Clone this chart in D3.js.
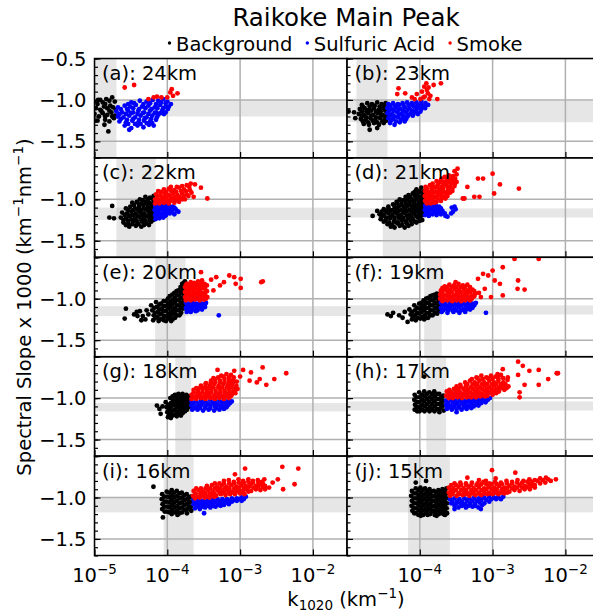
<!DOCTYPE html>
<html>
<head>
<meta charset="utf-8">
<script src="https://cdn.jsdelivr.net/npm/d3@7"></script>
<style>
body { margin: 0; background: #fff; }
text { font-family: "DejaVu Sans", sans-serif; fill: #000; }
</style>
</head>
<body>
<svg id="chart" width="593" height="614"></svg>
<script>
// values
var panelLabels = ['(a): 24km', '(b): 23km', '(c): 22km', '(d): 21km', '(e): 20km',
                   '(f): 19km', '(g): 18km', '(h): 17km', '(i): 16km', '(j): 15km'];

// shaded ranges per panel: k1020 (vertical band) and slope (horizontal band)
var kBand = [[8e-6, 2.0e-5], [1.35e-5, 3.6e-5], [2.0e-5, 6.9e-5], [3.1e-5, 1.02e-4], [6.8e-5, 1.78e-4],
             [1.15e-4, 2.0e-4], [1.29e-4, 2.14e-4], [1.23e-4, 2.3e-4], [8.9e-5, 2.3e-4], [6.9e-5, 2.59e-4]];
var slopeBand = [[-1.2, -1.0], [-1.27, -1.01], [-1.25, -1.10], [-1.22, -1.11], [-1.21, -1.09],
                 [-1.19, -1.08], [-1.16, -1.06], [-1.15, -1.04], [-1.18, -1.0], [-1.18, -1.0]];

var xTicks = [1e-5, 1e-4, 1e-3, 1e-2];
var xTickPowers = ['\u22125', '\u22124', '\u22123', '\u22122'];
var yTicks = [-0.5, -1.0, -1.5];
var yTickLabels = ['\u22120.5', '\u22121.0', '\u22121.5'];

var legendNames = ['Background', 'Sulfuric Acid', 'Smoke'];
var legendColors = ['#000000', '#0000ff', '#ff0000'];

// [k1020, slope x 1000] per panel
var background = [
  [[1.0e-5,-1.02],[1.1e-5,-1.05],[1.2e-5,-1.0],[1.3e-5,-1.03],[1.45e-5,-0.99],[1.6e-5,-1.01],[1.75e-5,-0.97],[1.9e-5,-1.02],
   [1.05e-5,-1.1],[1.2e-5,-1.12],[1.35e-5,-1.08],[1.5e-5,-1.1],[1.65e-5,-1.07],[1.8e-5,-1.09],[1.95e-5,-1.12],
   [1.0e-5,-1.17],[1.15e-5,-1.2],[1.3e-5,-1.16],[1.5e-5,-1.18],[1.7e-5,-1.15],[1.9e-5,-1.19],
   [1.1e-5,-1.25],[1.4e-5,-1.24],[1.6e-5,-1.26],[1.85e-5,-1.22],[1.37e-5,-1.3],[1.55e-5,-1.38],[1.02e-5,-1.25],
   [1.12e-5,-1.0],[1.4e-5,-1.05],[1.6e-5,-1.13],[1.4e-5,-1.2],[1.75e-5,-1.2],[1.25e-5,-1.14]],
  [[1.6e-5,-1.06],[1.9e-5,-1.04],[2.2e-5,-1.05],[2.6e-5,-1.03],[3.0e-5,-1.05],[3.4e-5,-1.04],
   [1.5e-5,-1.11],[1.75e-5,-1.1],[2.0e-5,-1.12],[2.35e-5,-1.1],[2.75e-5,-1.12],[3.15e-5,-1.1],[3.55e-5,-1.11],
   [1.45e-5,-1.17],[1.7e-5,-1.18],[1.95e-5,-1.16],[2.3e-5,-1.18],[2.65e-5,-1.16],[3.05e-5,-1.18],[3.5e-5,-1.17],
   [1.55e-5,-1.23],[1.8e-5,-1.24],[2.1e-5,-1.22],[2.45e-5,-1.24],[2.85e-5,-1.22],[3.3e-5,-1.24],
   [1.7e-5,-1.29],[2.0e-5,-1.3],[2.35e-5,-1.28],[2.75e-5,-1.3],[3.2e-5,-1.28],
   [1.05e-5,-1.14],[1.25e-5,-1.15],[1.3e-5,-1.22],[2.05e-5,-1.36],[2.6e-5,-1.34],
   [1.65e-5,-1.08],[2.05e-5,-1.08],[2.4e-5,-1.07],[2.8e-5,-1.08],[3.25e-5,-1.07],
   [1.6e-5,-1.14],[1.85e-5,-1.14],[2.15e-5,-1.13],[2.5e-5,-1.14],[2.9e-5,-1.14],[3.35e-5,-1.13],
   [1.6e-5,-1.2],[1.85e-5,-1.21],[2.15e-5,-1.19],[2.5e-5,-1.21],[2.9e-5,-1.2],[3.35e-5,-1.2],
   [1.65e-5,-1.26],[1.95e-5,-1.27],[2.25e-5,-1.25],[2.6e-5,-1.27],[3.05e-5,-1.26],[3.45e-5,-1.25]],
  [[4.2e-5,-1.0],[5.0e-5,-0.97],[5.8e-5,-0.98],[6.5e-5,-0.96],
   [3.3e-5,-1.04],[3.8e-5,-1.03],[4.4e-5,-1.05],[5.0e-5,-1.03],[5.7e-5,-1.04],[6.5e-5,-1.02],
   [2.7e-5,-1.11],[3.1e-5,-1.09],[3.6e-5,-1.11],[4.1e-5,-1.09],[4.7e-5,-1.11],[5.4e-5,-1.09],[6.1e-5,-1.1],[6.6e-5,-1.08],
   [2.4e-5,-1.16],[2.8e-5,-1.17],[3.2e-5,-1.15],[3.7e-5,-1.17],[4.2e-5,-1.15],[4.8e-5,-1.17],[5.5e-5,-1.15],[6.2e-5,-1.16],
   [2.3e-5,-1.22],[2.7e-5,-1.23],[3.1e-5,-1.21],[3.6e-5,-1.23],[4.1e-5,-1.21],[4.7e-5,-1.23],[5.4e-5,-1.21],[6.2e-5,-1.22],
   [2.5e-5,-1.28],[2.9e-5,-1.29],[3.4e-5,-1.27],[3.9e-5,-1.29],[4.5e-5,-1.27],[5.2e-5,-1.29],[6.0e-5,-1.27],
   [3.0e-5,-1.33],[3.7e-5,-1.32],[4.4e-5,-1.33],
   [1.6e-5,-1.22],[1.75e-5,-1.08],[1.85e-5,-1.23],
   [4.6e-5,-1.01],[5.4e-5,-1.0],[6.2e-5,-0.99],
   [3.5e-5,-1.07],[4.1e-5,-1.06],[4.7e-5,-1.07],[5.3e-5,-1.06],[6.1e-5,-1.06],
   [2.9e-5,-1.13],[3.4e-5,-1.13],[3.9e-5,-1.12],[4.4e-5,-1.13],[5.1e-5,-1.12],[5.8e-5,-1.13],[6.4e-5,-1.12],
   [2.6e-5,-1.19],[3.0e-5,-1.2],[3.4e-5,-1.19],[3.9e-5,-1.2],[4.5e-5,-1.19],[5.1e-5,-1.2],[5.8e-5,-1.19],[6.5e-5,-1.19],
   [2.5e-5,-1.25],[2.9e-5,-1.26],[3.3e-5,-1.25],[3.8e-5,-1.26],[4.4e-5,-1.25],[5.0e-5,-1.26],[5.7e-5,-1.25],[6.4e-5,-1.25],
   [2.7e-5,-1.31],[3.3e-5,-1.3],[4.0e-5,-1.3],[4.8e-5,-1.31],[5.6e-5,-1.31]],
  [[9.0e-5,-0.88],[1.05e-4,-0.86],[1.15e-4,-0.9],
   [7.0e-5,-0.95],[8.0e-5,-0.93],[9.2e-5,-0.94],[1.05e-4,-0.92],[1.13e-4,-0.95],
   [5.3e-5,-1.0],[6.0e-5,-1.01],[6.8e-5,-0.99],[7.8e-5,-1.0],[9.0e-5,-0.99],[1.02e-4,-1.01],[1.13e-4,-0.99],
   [4.3e-5,-1.06],[4.9e-5,-1.05],[5.6e-5,-1.07],[6.4e-5,-1.05],[7.3e-5,-1.07],[8.3e-5,-1.05],[9.5e-5,-1.06],[1.08e-4,-1.05],
   [3.2e-5,-1.12],[3.7e-5,-1.11],[4.2e-5,-1.13],[4.8e-5,-1.11],[5.5e-5,-1.13],[6.3e-5,-1.11],[7.2e-5,-1.13],[8.2e-5,-1.11],[9.4e-5,-1.12],[1.08e-4,-1.13],
   [2.8e-5,-1.18],[3.2e-5,-1.19],[3.7e-5,-1.17],[4.2e-5,-1.19],[4.8e-5,-1.17],[5.5e-5,-1.19],[6.3e-5,-1.17],[7.2e-5,-1.19],[8.3e-5,-1.17],[9.6e-5,-1.18],[1.1e-4,-1.19],
   [2.9e-5,-1.24],[3.4e-5,-1.25],[3.9e-5,-1.23],[4.5e-5,-1.25],[5.2e-5,-1.23],[6.0e-5,-1.25],[6.9e-5,-1.23],[8.0e-5,-1.24],[9.3e-5,-1.22],[1.08e-4,-1.25],
   [3.6e-5,-1.3],[4.2e-5,-1.31],[4.9e-5,-1.29],[5.7e-5,-1.31],[6.6e-5,-1.29],[7.7e-5,-1.3],[9.0e-5,-1.28],
   [4.5e-5,-1.34],[6.2e-5,-1.34],[2.25e-5,-1.2],[2.6e-5,-1.14],
   [8.5e-5,-0.91],[9.8e-5,-0.9],[1.1e-4,-0.92],
   [6.4e-5,-0.97],[7.4e-5,-0.97],[8.6e-5,-0.96],[9.8e-5,-0.97],[1.1e-4,-0.97],
   [4.8e-5,-1.03],[5.6e-5,-1.03],[6.4e-5,-1.02],[7.3e-5,-1.03],[8.4e-5,-1.02],[9.6e-5,-1.03],[1.1e-4,-1.02],
   [3.7e-5,-1.09],[4.5e-5,-1.09],[5.2e-5,-1.08],[6.0e-5,-1.09],[6.8e-5,-1.08],[7.8e-5,-1.09],[8.9e-5,-1.08],[1.01e-4,-1.09],[1.12e-4,-1.08],
   [3.0e-5,-1.15],[3.45e-5,-1.15],[3.95e-5,-1.14],[4.5e-5,-1.15],[5.1e-5,-1.14],[5.9e-5,-1.15],[6.7e-5,-1.14],[7.7e-5,-1.15],[8.8e-5,-1.14],[1.0e-4,-1.15],[1.12e-4,-1.16],
   [3.0e-5,-1.21],[3.45e-5,-1.22],[3.95e-5,-1.21],[4.5e-5,-1.22],[5.1e-5,-1.2],[5.9e-5,-1.22],[6.7e-5,-1.2],[7.7e-5,-1.21],[8.9e-5,-1.2],[1.02e-4,-1.21],
   [3.2e-5,-1.27],[3.8e-5,-1.28],[4.4e-5,-1.27],[5.0e-5,-1.28],[5.7e-5,-1.26],[6.5e-5,-1.27],[7.5e-5,-1.26],[8.6e-5,-1.27],[1.0e-4,-1.26],
   [4.0e-5,-1.33],[5.3e-5,-1.32],[7.0e-5,-1.32]],
  [[4.2e-5,-1.15],[4.6e-5,-1.21],[5.0e-5,-1.25],[5.2e-5,-1.14],[5.5e-5,-1.19],
   [6.0e-5,-1.08],[6.2e-5,-1.14],[6.5e-5,-1.2],[6.4e-5,-1.26],
   [7.0e-5,-1.04],[7.2e-5,-1.1],[7.4e-5,-1.16],[7.3e-5,-1.22],[7.6e-5,-1.27],
   [8.2e-5,-1.06],[8.4e-5,-1.12],[8.3e-5,-1.18],[8.6e-5,-1.24],
   [9.4e-5,-1.03],[9.6e-5,-1.09],[9.5e-5,-1.15],[9.8e-5,-1.21],[9.6e-5,-1.27],
   [1.08e-4,-0.97],[1.1e-4,-1.04],[1.1e-4,-1.1],[1.12e-4,-1.16],[1.1e-4,-1.22],[1.13e-4,-1.27],
   [1.25e-4,-0.93],[1.27e-4,-0.99],[1.26e-4,-1.05],[1.28e-4,-1.11],[1.26e-4,-1.17],[1.28e-4,-1.23],
   [1.42e-4,-0.9],[1.45e-4,-0.96],[1.43e-4,-1.02],[1.46e-4,-1.08],[1.44e-4,-1.14],[1.47e-4,-1.2],
   [1.6e-4,-0.82],[1.62e-4,-0.88],[1.65e-4,-0.94],[1.63e-4,-1.0],[1.66e-4,-1.06],[1.64e-4,-1.12],
   [1.75e-4,-0.79],[1.76e-4,-0.86],[1.75e-4,-0.92],[1.77e-4,-0.98],[1.76e-4,-1.04],[1.75e-4,-1.1],
   [2.7e-5,-1.12],[2.6e-5,-1.24],[3.5e-5,-1.19],[3.9e-5,-1.21],[4.4e-5,-1.26],[3.8e-5,-1.16],
   [6.6e-5,-1.11],[6.8e-5,-1.17],[6.9e-5,-1.23],
   [7.8e-5,-1.07],[7.8e-5,-1.13],[7.9e-5,-1.19],[8.0e-5,-1.25],
   [8.9e-5,-1.03],[9.0e-5,-1.09],[8.9e-5,-1.15],[9.1e-5,-1.21],[9.0e-5,-1.26],
   [1.02e-4,-1.0],[1.03e-4,-1.06],[1.02e-4,-1.12],[1.04e-4,-1.18],[1.03e-4,-1.24],
   [1.17e-4,-0.95],[1.18e-4,-1.01],[1.17e-4,-1.07],[1.19e-4,-1.13],[1.18e-4,-1.19],[1.18e-4,-1.25],
   [1.34e-4,-0.91],[1.35e-4,-0.96],[1.34e-4,-1.02],[1.36e-4,-1.08],[1.35e-4,-1.14],[1.36e-4,-1.2],
   [1.52e-4,-0.86],[1.53e-4,-0.92],[1.52e-4,-0.99],[1.54e-4,-1.05],[1.53e-4,-1.11],[1.55e-4,-1.17],
   [1.68e-4,-0.81],[1.7e-4,-0.85],[1.7e-4,-0.91],[1.7e-4,-0.97],[1.7e-4,-1.03],[1.7e-4,-1.09]],
  [[7.2e-5,-1.13],[7.5e-5,-1.19],[7.8e-5,-1.25],
   [8.4e-5,-1.08],[8.6e-5,-1.14],[8.5e-5,-1.2],[8.8e-5,-1.26],
   [9.8e-5,-1.06],[1.0e-4,-1.12],[9.9e-5,-1.18],[1.02e-4,-1.24],
   [1.13e-4,-1.02],[1.15e-4,-1.08],[1.14e-4,-1.14],[1.16e-4,-1.2],[1.15e-4,-1.25],
   [1.3e-4,-0.99],[1.32e-4,-1.05],[1.31e-4,-1.11],[1.33e-4,-1.17],[1.3e-4,-1.23],
   [1.5e-4,-0.96],[1.52e-4,-1.02],[1.5e-4,-1.08],[1.53e-4,-1.14],[1.5e-4,-1.2],
   [1.72e-4,-0.94],[1.74e-4,-1.0],[1.72e-4,-1.06],[1.75e-4,-1.12],[1.73e-4,-1.18],
   [1.9e-4,-0.95],[1.92e-4,-1.01],[1.9e-4,-1.07],[1.93e-4,-1.13],
   [3.6e-5,-1.19],[4.3e-5,-1.17],[5.2e-5,-1.2],[6.8e-5,-1.28],[4.0e-5,-1.21],[5.8e-5,-1.23],[6.2e-5,-1.16],
   [7.8e-5,-1.16],[8.0e-5,-1.22],
   [9.1e-5,-1.11],[9.2e-5,-1.17],[9.3e-5,-1.23],
   [1.06e-4,-1.05],[1.07e-4,-1.1],[1.06e-4,-1.16],[1.08e-4,-1.22],
   [1.22e-4,-1.0],[1.23e-4,-1.05],[1.22e-4,-1.11],[1.24e-4,-1.17],[1.22e-4,-1.23],
   [1.4e-4,-0.97],[1.41e-4,-1.02],[1.4e-4,-1.08],[1.42e-4,-1.14],[1.4e-4,-1.2],
   [1.61e-4,-0.95],[1.62e-4,-0.99],[1.61e-4,-1.05],[1.63e-4,-1.11],[1.61e-4,-1.17],
   [1.82e-4,-0.97],[1.82e-4,-1.03],[1.83e-4,-1.09],[1.82e-4,-1.15]],
  [[9.5e-5,-1.05],[9.8e-5,-1.11],[1.0e-4,-1.17],[1.02e-4,-1.23],
   [1.1e-4,-1.0],[1.12e-4,-1.06],[1.1e-4,-1.12],[1.13e-4,-1.18],[1.12e-4,-1.24],
   [1.27e-4,-0.96],[1.25e-4,-1.02],[1.28e-4,-1.08],[1.26e-4,-1.14],[1.28e-4,-1.2],
   [1.43e-4,-0.95],[1.45e-4,-1.01],[1.43e-4,-1.07],[1.46e-4,-1.13],[1.44e-4,-1.19],
   [1.62e-4,-0.95],[1.64e-4,-1.01],[1.62e-4,-1.07],[1.65e-4,-1.13],[1.63e-4,-1.18],
   [1.83e-4,-0.96],[1.85e-4,-1.02],[1.83e-4,-1.08],[1.86e-4,-1.14],
   [2.02e-4,-0.98],[2.05e-4,-1.04],[2.03e-4,-1.1],
   [7.2e-5,-1.09],[7.8e-5,-1.13],[8.1e-5,-1.19],[8.6e-5,-1.1],
   [1.04e-4,-1.08],[1.05e-4,-1.14],[1.06e-4,-1.2],
   [1.18e-4,-0.98],[1.19e-4,-1.04],[1.18e-4,-1.09],[1.2e-4,-1.15],[1.19e-4,-1.21],
   [1.35e-4,-0.96],[1.34e-4,-1.0],[1.36e-4,-1.05],[1.35e-4,-1.11],[1.36e-4,-1.17],[1.35e-4,-1.22],
   [1.53e-4,-0.98],[1.54e-4,-1.04],[1.53e-4,-1.1],[1.55e-4,-1.16],[1.54e-4,-1.21],
   [1.73e-4,-0.98],[1.74e-4,-1.04],[1.73e-4,-1.1],[1.75e-4,-1.16],
   [1.93e-4,-0.99],[1.94e-4,-1.05],[1.93e-4,-1.11]],
  [[8.5e-5,-0.96],[8.4e-5,-1.02],[8.6e-5,-1.08],[8.5e-5,-1.14],
   [9.8e-5,-0.93],[1.0e-4,-0.99],[9.8e-5,-1.05],[1.0e-4,-1.11],[9.9e-5,-1.16],
   [1.15e-4,-0.92],[1.17e-4,-0.98],[1.15e-4,-1.04],[1.17e-4,-1.1],[1.16e-4,-1.16],
   [1.35e-4,-0.93],[1.37e-4,-0.99],[1.35e-4,-1.05],[1.37e-4,-1.11],[1.36e-4,-1.16],
   [1.58e-4,-0.92],[1.6e-4,-0.98],[1.58e-4,-1.04],[1.6e-4,-1.1],[1.59e-4,-1.16],
   [1.85e-4,-0.95],[1.87e-4,-1.01],[1.85e-4,-1.07],[1.87e-4,-1.13],[1.86e-4,-1.17],
   [2.1e-4,-0.97],[2.12e-4,-1.03],[2.1e-4,-1.09],[2.13e-4,-1.15],
   [1.15e-4,-0.74],
   [9.1e-5,-0.99],[9.2e-5,-1.05],[9.1e-5,-1.11],[9.2e-5,-1.16],
   [1.07e-4,-0.96],[1.08e-4,-1.02],[1.07e-4,-1.08],[1.08e-4,-1.14],
   [1.25e-4,-0.95],[1.26e-4,-1.01],[1.25e-4,-1.07],[1.26e-4,-1.13],
   [1.47e-4,-0.95],[1.48e-4,-1.01],[1.47e-4,-1.07],[1.48e-4,-1.13],
   [1.72e-4,-0.95],[1.73e-4,-1.01],[1.72e-4,-1.07],[1.73e-4,-1.13],
   [1.98e-4,-0.99],[1.99e-4,-1.05],[1.98e-4,-1.11]],
  [[8.5e-5,-0.96],[8.4e-5,-1.02],[8.6e-5,-1.08],[8.5e-5,-1.14],
   [9.8e-5,-0.93],[1.0e-4,-0.99],[9.8e-5,-1.05],[1.0e-4,-1.11],[9.9e-5,-1.17],
   [1.15e-4,-0.91],[1.17e-4,-0.97],[1.15e-4,-1.03],[1.17e-4,-1.09],[1.16e-4,-1.15],[1.15e-4,-1.2],
   [1.35e-4,-0.92],[1.37e-4,-0.98],[1.35e-4,-1.04],[1.37e-4,-1.1],[1.36e-4,-1.16],[1.38e-4,-1.21],
   [1.58e-4,-0.94],[1.6e-4,-1.0],[1.58e-4,-1.06],[1.6e-4,-1.12],[1.59e-4,-1.18],
   [1.85e-4,-0.96],[1.87e-4,-1.02],[1.85e-4,-1.08],[1.87e-4,-1.14],[1.86e-4,-1.19],
   [2.1e-4,-0.99],[2.12e-4,-1.05],[2.1e-4,-1.11],[2.13e-4,-1.16],
   [6.45e-5,-0.87],[8.7e-5,-1.24],
   [9.1e-5,-0.99],[9.2e-5,-1.05],[9.1e-5,-1.11],[9.2e-5,-1.17],
   [1.07e-4,-0.94],[1.08e-4,-1.0],[1.07e-4,-1.06],[1.08e-4,-1.12],[1.07e-4,-1.18],
   [1.25e-4,-0.94],[1.26e-4,-1.0],[1.25e-4,-1.06],[1.26e-4,-1.12],[1.25e-4,-1.18],
   [1.47e-4,-0.95],[1.48e-4,-1.01],[1.47e-4,-1.07],[1.48e-4,-1.13],[1.47e-4,-1.19],
   [1.72e-4,-0.97],[1.73e-4,-1.03],[1.72e-4,-1.09],[1.73e-4,-1.15],
   [1.98e-4,-1.0],[1.99e-4,-1.06],[1.98e-4,-1.12]],
  [[7.8e-5,-0.92],[7.6e-5,-0.98],[7.8e-5,-1.04],[7.7e-5,-1.1],[7.9e-5,-1.16],
   [8.8e-5,-0.89],[9.0e-5,-0.95],[8.9e-5,-1.01],[9.1e-5,-1.07],[8.9e-5,-1.13],[9.0e-5,-1.19],
   [1.02e-4,-0.88],[1.04e-4,-0.94],[1.02e-4,-1.0],[1.05e-4,-1.06],[1.03e-4,-1.12],[1.05e-4,-1.18],[1.03e-4,-1.22],
   [1.18e-4,-0.89],[1.2e-4,-0.95],[1.18e-4,-1.01],[1.21e-4,-1.07],[1.19e-4,-1.13],[1.21e-4,-1.19],
   [1.36e-4,-0.9],[1.38e-4,-0.96],[1.36e-4,-1.02],[1.39e-4,-1.08],[1.37e-4,-1.14],[1.39e-4,-1.2],
   [1.56e-4,-0.92],[1.58e-4,-0.98],[1.56e-4,-1.04],[1.59e-4,-1.1],[1.57e-4,-1.16],[1.6e-4,-1.21],
   [1.8e-4,-0.91],[1.82e-4,-0.97],[1.8e-4,-1.03],[1.83e-4,-1.09],[1.81e-4,-1.15],[1.83e-4,-1.2],
   [2.05e-4,-0.9],[2.08e-4,-0.96],[2.06e-4,-1.02],[2.09e-4,-1.08],[2.07e-4,-1.14],[2.1e-4,-1.2],
   [2.32e-4,-0.89],[2.35e-4,-0.95],[2.33e-4,-1.01],[2.36e-4,-1.07],[2.34e-4,-1.13],[2.37e-4,-1.19],
   [8.8e-5,-0.82],[1.22e-4,-0.8],
   [8.3e-5,-0.95],[8.3e-5,-1.01],[8.4e-5,-1.07],[8.3e-5,-1.13],[8.4e-5,-1.19],
   [9.6e-5,-0.91],[9.6e-5,-0.97],[9.7e-5,-1.03],[9.6e-5,-1.09],[9.7e-5,-1.15],[9.6e-5,-1.21],
   [1.1e-4,-0.91],[1.11e-4,-0.97],[1.1e-4,-1.03],[1.11e-4,-1.09],[1.1e-4,-1.15],[1.11e-4,-1.21],
   [1.27e-4,-0.92],[1.28e-4,-0.98],[1.27e-4,-1.04],[1.28e-4,-1.1],[1.27e-4,-1.16],[1.28e-4,-1.21],
   [1.46e-4,-0.93],[1.47e-4,-0.99],[1.46e-4,-1.05],[1.47e-4,-1.11],[1.46e-4,-1.17],
   [1.68e-4,-0.94],[1.69e-4,-1.0],[1.68e-4,-1.06],[1.69e-4,-1.12],[1.68e-4,-1.18],[1.7e-4,-1.22],
   [1.93e-4,-0.93],[1.94e-4,-0.99],[1.93e-4,-1.05],[1.94e-4,-1.11],[1.93e-4,-1.17],
   [2.2e-4,-0.92],[2.21e-4,-0.98],[2.2e-4,-1.04],[2.21e-4,-1.1],[2.2e-4,-1.16],[2.22e-4,-1.21]]
];

var sulfuric = [
  [[3.2e-5,-1.03],[4.2e-5,-1.01],[5.2e-5,-1.02],[6.3e-5,-1.0],[7.5e-5,-1.01],[8.8e-5,-0.99],[1.0e-4,-1.02],
   [2.1e-5,-1.09],[2.6e-5,-1.07],[3.1e-5,-1.08],[3.7e-5,-1.06],[4.5e-5,-1.08],[5.5e-5,-1.07],[6.7e-5,-1.09],[8.0e-5,-1.06],[9.5e-5,-1.08],[1.12e-4,-1.05],
   [2.0e-5,-1.14],[2.4e-5,-1.15],[2.9e-5,-1.13],[3.4e-5,-1.15],[4.0e-5,-1.13],[4.8e-5,-1.15],[5.8e-5,-1.13],[7.0e-5,-1.15],[8.5e-5,-1.13],[1.02e-4,-1.11],
   [2.1e-5,-1.2],[2.5e-5,-1.21],[3.0e-5,-1.19],[3.6e-5,-1.21],[4.3e-5,-1.19],[5.2e-5,-1.21],[6.2e-5,-1.19],[7.5e-5,-1.18],[9.0e-5,-1.17],
   [2.2e-5,-1.26],[2.7e-5,-1.27],[3.3e-5,-1.25],[4.0e-5,-1.27],[4.8e-5,-1.25],[5.8e-5,-1.26],[7.0e-5,-1.24],
   [2.6e-5,-1.31],[3.2e-5,-1.34],[3.9e-5,-1.31],[4.7e-5,-1.33],[5.6e-5,-1.3],[6.5e-5,-1.31],[3.0e-5,-1.36],
   [2.9e-5,-1.05],[3.5e-5,-1.04],[4.7e-5,-1.05],[5.8e-5,-1.04],[7.0e-5,-1.05],[8.2e-5,-1.03],[9.5e-5,-1.04],
   [2.3e-5,-1.11],[2.8e-5,-1.11],[3.4e-5,-1.1],[4.1e-5,-1.11],[5.0e-5,-1.1],[6.1e-5,-1.11],[7.3e-5,-1.1],[8.8e-5,-1.1],[1.05e-4,-1.08],
   [2.2e-5,-1.17],[2.7e-5,-1.17],[3.2e-5,-1.16],[3.9e-5,-1.17],[4.6e-5,-1.16],[5.5e-5,-1.17],[6.7e-5,-1.16],[8.0e-5,-1.16],[9.5e-5,-1.15],
   [2.3e-5,-1.23],[2.8e-5,-1.24],[3.4e-5,-1.23],[4.1e-5,-1.24],[4.9e-5,-1.22],[6.0e-5,-1.23],[7.2e-5,-1.21],
   [2.9e-5,-1.29],[3.6e-5,-1.29],[4.3e-5,-1.29],[5.2e-5,-1.28],[6.2e-5,-1.28]],
  [[3.7e-5,-1.05],[4.3e-5,-1.04],[5.0e-5,-1.05],[5.8e-5,-1.04],[6.7e-5,-1.03],[7.8e-5,-1.04],[9.0e-5,-1.03],[1.05e-4,-1.02],[1.2e-4,-1.04],
   [3.6e-5,-1.1],[4.1e-5,-1.11],[4.7e-5,-1.09],[5.4e-5,-1.11],[6.2e-5,-1.09],[7.2e-5,-1.1],[8.3e-5,-1.08],[9.6e-5,-1.09],[1.1e-4,-1.08],[1.3e-4,-1.06],
   [3.6e-5,-1.16],[4.2e-5,-1.17],[4.9e-5,-1.15],[5.6e-5,-1.17],[6.5e-5,-1.15],[7.6e-5,-1.16],[8.8e-5,-1.14],[1.02e-4,-1.14],
   [3.7e-5,-1.22],[4.3e-5,-1.23],[5.0e-5,-1.21],[5.8e-5,-1.22],[6.8e-5,-1.2],[8.0e-5,-1.19],
   [3.9e-5,-1.28],[4.5e-5,-1.3],[5.3e-5,-1.27],[6.2e-5,-1.26],
   [3.9e-5,-1.07],[4.5e-5,-1.07],[5.2e-5,-1.06],[6.0e-5,-1.07],[7.0e-5,-1.06],[8.0e-5,-1.06],[9.3e-5,-1.06],[1.05e-4,-1.05],[1.2e-4,-1.07],
   [3.8e-5,-1.13],[4.4e-5,-1.13],[5.1e-5,-1.12],[5.9e-5,-1.13],[6.8e-5,-1.12],[7.8e-5,-1.13],[9.0e-5,-1.11],[1.05e-4,-1.11],[1.18e-4,-1.1],
   [3.9e-5,-1.19],[4.5e-5,-1.2],[5.2e-5,-1.18],[6.0e-5,-1.19],[7.0e-5,-1.18],[8.2e-5,-1.17],[9.4e-5,-1.17],
   [4.0e-5,-1.25],[4.7e-5,-1.26],[5.5e-5,-1.24],[6.5e-5,-1.23]],
  [[6.8e-5,-1.08],[7.6e-5,-1.07],[8.5e-5,-1.08],[9.5e-5,-1.07],[1.06e-4,-1.08],[1.18e-4,-1.09],
   [6.7e-5,-1.13],[7.4e-5,-1.14],[8.2e-5,-1.12],[9.2e-5,-1.14],[1.03e-4,-1.12],[1.15e-4,-1.13],[1.3e-4,-1.12],[1.42e-4,-1.15],
   [6.8e-5,-1.19],[7.6e-5,-1.2],[8.5e-5,-1.18],[9.6e-5,-1.19],[1.08e-4,-1.17],[1.25e-4,-1.18],
   [6.9e-5,-1.24],[7.8e-5,-1.23],[8.8e-5,-1.22],
   [7.2e-5,-1.1],[8.0e-5,-1.1],[9.0e-5,-1.1],[1.0e-4,-1.1],[1.12e-4,-1.11],[1.25e-4,-1.1],
   [7.1e-5,-1.16],[8.0e-5,-1.17],[9.0e-5,-1.16],[1.02e-4,-1.15],[1.15e-4,-1.15],[1.35e-4,-1.14],
   [7.3e-5,-1.22],[8.2e-5,-1.21],[9.3e-5,-1.2]],
  [[1.18e-4,-1.08],[1.32e-4,-1.07],[1.48e-4,-1.08],[1.65e-4,-1.07],[1.85e-4,-1.09],
   [1.17e-4,-1.13],[1.3e-4,-1.14],[1.45e-4,-1.12],[1.62e-4,-1.14],[1.82e-4,-1.12],[2.05e-4,-1.14],
   [1.18e-4,-1.19],[1.33e-4,-1.2],[1.5e-4,-1.18],[1.7e-4,-1.19],[1.95e-4,-1.18],[2.25e-4,-1.2],[2.4e-4,-1.21],
   [2.75e-4,-1.1],[3.0e-4,-1.09],[3.1e-4,-1.12],[2.85e-4,-1.15],[2.7e-4,-1.17],
   [1.25e-4,-1.1],[1.4e-4,-1.11],[1.56e-4,-1.1],[1.75e-4,-1.1],[1.95e-4,-1.11],
   [1.24e-4,-1.16],[1.4e-4,-1.17],[1.57e-4,-1.16],[1.77e-4,-1.16],[2.0e-4,-1.16],[2.2e-4,-1.17]],
  [[1.8e-4,-1.05],[2.0e-4,-1.06],[2.25e-4,-1.05],[2.5e-4,-1.06],[2.8e-4,-1.05],[3.1e-4,-1.06],[3.4e-4,-1.05],
   [1.8e-4,-1.11],[2.0e-4,-1.12],[2.25e-4,-1.1],[2.55e-4,-1.12],[2.9e-4,-1.11],[3.3e-4,-1.1],
   [1.85e-4,-1.16],[2.1e-4,-1.16],[2.45e-4,-1.15],[5.1e-4,-1.2],
   [1.9e-4,-1.08],[2.1e-4,-1.09],[2.4e-4,-1.08],[2.7e-4,-1.08],[3.0e-4,-1.08],[3.3e-4,-1.07],
   [1.9e-4,-1.14],[2.2e-4,-1.13],[2.6e-4,-1.14],[3.0e-4,-1.13]],
  [[1.95e-4,-1.05],[2.25e-4,-1.06],[2.6e-4,-1.05],[3.0e-4,-1.06],[3.45e-4,-1.05],[4.0e-4,-1.06],[4.6e-4,-1.05],[5.3e-4,-1.06],[5.9e-4,-1.05],
   [1.95e-4,-1.11],[2.25e-4,-1.12],[2.6e-4,-1.1],[3.0e-4,-1.12],[3.45e-4,-1.1],[4.0e-4,-1.12],[4.6e-4,-1.1],[5.3e-4,-1.11],
   [2.0e-4,-1.16],[2.4e-4,-1.17],[2.9e-4,-1.16],[3.5e-4,-1.17],[4.2e-4,-1.16],[8.1e-4,-1.17],
   [2.1e-4,-1.08],[2.4e-4,-1.09],[2.8e-4,-1.08],[3.2e-4,-1.08],[3.7e-4,-1.08],[4.3e-4,-1.08],[4.9e-4,-1.08],[5.6e-4,-1.08],
   [2.1e-4,-1.14],[2.45e-4,-1.14],[2.8e-4,-1.14],[3.2e-4,-1.14],[3.7e-4,-1.14],[4.3e-4,-1.13],[4.9e-4,-1.13]],
  [[2.15e-4,-1.04],[2.5e-4,-1.04],[2.9e-4,-1.03],[3.35e-4,-1.04],[3.9e-4,-1.03],[4.5e-4,-1.04],[5.2e-4,-1.03],[6.0e-4,-1.03],[6.9e-4,-1.03],[7.7e-4,-1.04],
   [2.15e-4,-1.09],[2.5e-4,-1.1],[2.9e-4,-1.09],[3.35e-4,-1.1],[3.9e-4,-1.09],[4.5e-4,-1.1],[5.2e-4,-1.09],[6.0e-4,-1.1],[6.9e-4,-1.08],
   [2.2e-4,-1.14],[2.6e-4,-1.14],[3.1e-4,-1.15],[3.7e-4,-1.14],[4.4e-4,-1.15],[5.2e-4,-1.14],[6.0e-4,-1.13],
   [2.3e-4,-1.06],[2.7e-4,-1.07],[3.1e-4,-1.06],[3.6e-4,-1.07],[4.2e-4,-1.06],[4.8e-4,-1.07],[5.6e-4,-1.06],[6.4e-4,-1.06],[7.3e-4,-1.06],
   [2.35e-4,-1.12],[2.8e-4,-1.12],[3.3e-4,-1.12],[3.9e-4,-1.12],[4.7e-4,-1.12],[5.6e-4,-1.11],[6.5e-4,-1.11]],
  [[2.3e-4,-1.03],[2.65e-4,-1.02],[3.05e-4,-1.03],[3.5e-4,-1.02],[4.0e-4,-1.03],[4.6e-4,-1.02],[5.3e-4,-1.02],[6.1e-4,-1.01],[7.0e-4,-1.01],[8.0e-4,-1.0],[9.2e-4,-1.0],
   [2.3e-4,-1.08],[2.65e-4,-1.09],[3.05e-4,-1.08],[3.5e-4,-1.09],[4.0e-4,-1.08],[4.6e-4,-1.09],[5.3e-4,-1.07],[6.1e-4,-1.08],[7.0e-4,-1.06],[8.0e-4,-1.05],
   [2.35e-4,-1.13],[2.75e-4,-1.14],[3.2e-4,-1.13],[3.75e-4,-1.14],[4.4e-4,-1.13],[5.1e-4,-1.12],[3.2e-4,-1.17],
   [2.45e-4,-1.06],[2.85e-4,-1.05],[3.25e-4,-1.06],[3.75e-4,-1.05],[4.3e-4,-1.05],[4.95e-4,-1.05],[5.7e-4,-1.04],[6.5e-4,-1.04],[7.5e-4,-1.03],[8.6e-4,-1.02],
   [2.5e-4,-1.11],[2.95e-4,-1.11],[3.45e-4,-1.11],[4.05e-4,-1.11],[4.7e-4,-1.1],[5.5e-4,-1.1],[6.4e-4,-1.09]],
  [[2.3e-4,-1.03],[2.7e-4,-1.03],[3.1e-4,-1.04],[3.6e-4,-1.03],[4.2e-4,-1.03],[4.9e-4,-1.02],[5.7e-4,-1.02],[6.6e-4,-1.02],[7.7e-4,-1.01],[9.0e-4,-1.01],[1.05e-3,-1.0],[1.2e-3,-0.99],
   [2.3e-4,-1.08],[2.7e-4,-1.09],[3.1e-4,-1.08],[3.6e-4,-1.09],[4.2e-4,-1.08],[4.9e-4,-1.07],[5.7e-4,-1.07],[6.6e-4,-1.06],[7.7e-4,-1.05],[9.0e-4,-1.04],[1.05e-3,-1.04],
   [2.4e-4,-1.13],[2.8e-4,-1.14],[3.3e-4,-1.12],[3.9e-4,-1.12],[4.6e-4,-1.11],[5.4e-4,-1.1],[3.2e-4,-1.19],
   [2.5e-4,-1.06],[2.9e-4,-1.06],[3.35e-4,-1.06],[3.9e-4,-1.06],[4.5e-4,-1.05],[5.3e-4,-1.05],[6.1e-4,-1.04],[7.1e-4,-1.04],[8.3e-4,-1.03],[9.7e-4,-1.02],[1.12e-3,-1.02],
   [2.55e-4,-1.11],[3.0e-4,-1.11],[3.6e-4,-1.1],[4.25e-4,-1.1],[5.0e-4,-1.09],[6.0e-4,-1.09],[7.0e-4,-1.08]],
  [[2.6e-4,-1.02],[3.0e-4,-1.01],[3.5e-4,-1.02],[4.1e-4,-1.01],[4.8e-4,-1.01],[5.6e-4,-1.0],[6.5e-4,-1.01],[7.6e-4,-1.0],[8.9e-4,-0.99],[1.04e-3,-1.0],[1.2e-3,-0.99],[1.4e-3,-0.99],
   [2.7e-4,-1.07],[3.1e-4,-1.08],[3.6e-4,-1.07],[4.2e-4,-1.08],[4.9e-4,-1.07],[5.7e-4,-1.08],[6.6e-4,-1.06],[7.7e-4,-1.07],[9.0e-4,-1.05],
   [3.4e-4,-1.12],[4.3e-4,-1.12],[5.3e-4,-1.11],[6.4e-4,-1.12],[3.0e-4,-1.14],[6.9e-4,-1.14],
   [2.8e-4,-1.05],[3.25e-4,-1.05],[3.8e-4,-1.05],[4.45e-4,-1.04],[5.2e-4,-1.04],[6.0e-4,-1.04],[7.0e-4,-1.03],[8.2e-4,-1.03],[9.6e-4,-1.02],[1.12e-3,-1.02],[1.3e-3,-1.02],
   [3.0e-4,-1.1],[3.8e-4,-1.1],[4.7e-4,-1.1],[5.8e-4,-1.1],[7.2e-4,-1.09]]
];

var smoke = [
  [[2.6e-5,-0.85],[3.5e-5,-0.82],[5.5e-5,-0.99],[6.5e-5,-0.97],[7.2e-5,-0.96],[8.3e-5,-0.97],[1.0e-4,-0.97],[1.1e-4,-0.91],[1.15e-4,-0.87],[1.38e-4,-0.92],[1.2e-4,-0.95]],
  [[5.1e-5,-0.86],[4.9e-5,-0.93],[6.3e-5,-0.92],[9.1e-5,-0.93],[1.07e-4,-0.9],[1.23e-4,-0.8],[1.32e-4,-0.85],[1.29e-4,-0.92],[1.74e-4,-0.99],[1.95e-4,-0.8],
   [1.55e-4,-0.82],[1.12e-4,-0.97],[7.8e-5,-0.97],[1.02e-4,-0.99],[1.17e-4,-0.96],[1.25e-4,-0.88],[1.4e-4,-0.95],[8.5e-5,-0.99],[1.35e-4,-0.99],[1.15e-4,-0.84]],
  [[7.5e-5,-0.9],[9.0e-5,-0.88],[1.05e-4,-0.87],[1.25e-4,-0.89],[1.45e-4,-0.86],[1.7e-4,-0.88],[2.0e-4,-0.85],
   [7.0e-5,-0.94],[8.0e-5,-0.95],[9.2e-5,-0.93],[1.05e-4,-0.95],[1.2e-4,-0.93],[1.38e-4,-0.95],[1.6e-4,-0.93],[1.85e-4,-0.94],[2.15e-4,-0.92],
   [6.8e-5,-1.0],[7.7e-5,-1.01],[8.8e-5,-0.99],[1.0e-4,-1.01],[1.15e-4,-0.99],[1.32e-4,-1.01],[1.52e-4,-0.99],[1.75e-4,-1.0],
   [6.8e-5,-1.05],[7.8e-5,-1.05],[9.0e-5,-1.04],[1.05e-4,-1.05],[1.25e-4,-1.04],[1.45e-4,-1.03],
   [2.1e-4,-0.81],[2.4e-4,-0.82],[2.9e-4,-0.86],[3.55e-4,-0.99],[2.3e-4,-0.97],
   [8.2e-5,-0.91],[9.7e-5,-0.91],[1.13e-4,-0.9],[1.33e-4,-0.91],[1.55e-4,-0.9],[1.8e-4,-0.9],[2.05e-4,-0.89],
   [7.3e-5,-0.97],[8.4e-5,-0.97],[9.6e-5,-0.97],[1.1e-4,-0.97],[1.27e-4,-0.97],[1.45e-4,-0.97],[1.68e-4,-0.96],[1.95e-4,-0.96],
   [7.2e-5,-1.03],[8.3e-5,-1.02],[9.5e-5,-1.03],[1.1e-4,-1.02],[1.25e-4,-1.02],[1.42e-4,-1.01],[1.62e-4,-1.0],
   [1.12e-4,-0.85],[1.35e-4,-0.85],[1.6e-4,-0.84],[1.85e-4,-0.83]],
  [[3.0e-4,-0.66],[3.3e-4,-0.63],
   [2.2e-4,-0.73],[2.5e-4,-0.71],[2.85e-4,-0.72],[3.2e-4,-0.7],
   [1.7e-4,-0.78],[1.95e-4,-0.77],[2.2e-4,-0.79],[2.5e-4,-0.77],[2.85e-4,-0.78],[3.2e-4,-0.79],
   [1.2e-4,-0.85],[1.38e-4,-0.83],[1.55e-4,-0.85],[1.75e-4,-0.83],[2.0e-4,-0.85],[2.3e-4,-0.83],[2.6e-4,-0.85],[3.0e-4,-0.84],
   [1.18e-4,-0.9],[1.32e-4,-0.91],[1.48e-4,-0.89],[1.68e-4,-0.91],[1.9e-4,-0.89],[2.15e-4,-0.91],[2.45e-4,-0.89],[2.8e-4,-0.9],
   [1.17e-4,-0.96],[1.3e-4,-0.97],[1.45e-4,-0.95],[1.63e-4,-0.97],[1.85e-4,-0.95],[2.1e-4,-0.97],[2.4e-4,-0.96],
   [1.18e-4,-1.02],[1.33e-4,-1.03],[1.5e-4,-1.01],[1.7e-4,-1.03],[1.95e-4,-1.02],
   [3.9e-4,-0.99],[4.1e-4,-0.99],[5.6e-4,-0.97],[6.6e-4,-0.97],[6.3e-4,-0.75],[7.4e-4,-0.75],[1.0e-3,-0.69],[1.26e-3,-0.82],[1.05e-3,-0.93],[2.3e-3,-0.87],[4.5e-4,-0.85],
   [2.0e-4,-0.75],[2.35e-4,-0.75],[2.7e-4,-0.75],[3.05e-4,-0.75],
   [1.5e-4,-0.81],[1.85e-4,-0.8],[2.1e-4,-0.81],[2.4e-4,-0.8],[2.7e-4,-0.81],[3.05e-4,-0.81],
   [1.25e-4,-0.87],[1.45e-4,-0.87],[1.65e-4,-0.86],[1.85e-4,-0.87],[2.1e-4,-0.87],[2.45e-4,-0.86],[2.8e-4,-0.87],
   [1.25e-4,-0.93],[1.4e-4,-0.93],[1.58e-4,-0.92],[1.78e-4,-0.93],[2.0e-4,-0.93],[2.3e-4,-0.93],[2.6e-4,-0.92],
   [1.25e-4,-0.99],[1.4e-4,-0.99],[1.55e-4,-0.98],[1.75e-4,-0.99],[2.0e-4,-0.99],[2.25e-4,-0.99],
   [1.25e-4,-1.05],[1.42e-4,-1.05],[1.6e-4,-1.04]],
  [[1.85e-4,-0.82],[2.1e-4,-0.8],[2.35e-4,-0.81],[2.65e-4,-0.79],[3.0e-4,-0.78],
   [1.75e-4,-0.86],[1.95e-4,-0.87],[2.2e-4,-0.85],[2.45e-4,-0.87],[2.75e-4,-0.85],[3.1e-4,-0.86],[3.5e-4,-0.84],
   [1.75e-4,-0.92],[1.95e-4,-0.93],[2.2e-4,-0.91],[2.45e-4,-0.93],[2.75e-4,-0.91],[3.1e-4,-0.93],[3.5e-4,-0.91],
   [1.75e-4,-0.98],[1.95e-4,-0.99],[2.2e-4,-0.97],[2.45e-4,-0.99],[2.75e-4,-0.97],[3.1e-4,-0.99],[3.55e-4,-0.98],
   [1.8e-4,-1.02],[2.1e-4,-1.02],[2.4e-4,-1.01],[2.8e-4,-1.02],[3.2e-4,-1.01],
   [2.9e-4,-0.68],[4.0e-4,-0.77],[4.7e-4,-0.74],[6.0e-4,-0.8],[7.1e-4,-0.72],[8.3e-4,-0.74],[1.02e-3,-0.76],[1.02e-3,-0.87],[8.7e-4,-0.82],
   [1.95e-3,-0.8],[2.05e-3,-0.79],[5.3e-4,-0.84],[4.3e-4,-0.9],
   [1.8e-4,-0.84],[2.0e-4,-0.83],[2.3e-4,-0.83],[2.55e-4,-0.83],[2.9e-4,-0.82],[3.25e-4,-0.82],
   [1.85e-4,-0.89],[2.05e-4,-0.89],[2.3e-4,-0.89],[2.6e-4,-0.89],[2.9e-4,-0.88],[3.3e-4,-0.88],
   [1.85e-4,-0.95],[2.05e-4,-0.95],[2.3e-4,-0.95],[2.6e-4,-0.95],[2.9e-4,-0.95],[3.3e-4,-0.95],
   [1.95e-4,-1.0],[2.3e-4,-1.0],[2.6e-4,-1.0],[3.0e-4,-1.0],[3.4e-4,-1.0]],
  [[2.2e-4,-0.85],[2.55e-4,-0.83],[2.95e-4,-0.84],[3.4e-4,-0.82],[3.9e-4,-0.84],[4.5e-4,-0.83],
   [1.95e-4,-0.9],[2.25e-4,-0.89],[2.6e-4,-0.9],[3.0e-4,-0.88],[3.45e-4,-0.9],[4.0e-4,-0.88],[4.6e-4,-0.9],[5.3e-4,-0.89],
   [1.9e-4,-0.95],[2.2e-4,-0.96],[2.55e-4,-0.94],[2.95e-4,-0.96],[3.4e-4,-0.94],[3.9e-4,-0.96],[4.5e-4,-0.94],[5.2e-4,-0.96],[5.8e-4,-0.94],
   [1.9e-4,-1.0],[2.2e-4,-1.01],[2.55e-4,-0.99],[2.95e-4,-1.01],[3.4e-4,-0.99],[3.9e-4,-1.01],[4.5e-4,-0.99],[5.2e-4,-1.0],
   [3.1e-4,-0.8],[6.3e-4,-0.76],[7.4e-4,-0.7],[8.7e-4,-0.72],[1.0e-3,-0.66],[1.38e-3,-0.62],[1.07e-3,-0.78],[1.26e-3,-0.82],[1.38e-3,-0.96],
   [9.5e-4,-0.98],[6.9e-4,-0.98],[2.24e-3,-0.78],[2.2e-3,-0.88],[2.75e-3,-0.89],[2.0e-3,-0.52],[4.3e-3,-0.52],[6.5e-4,-0.93],[7.8e-4,-0.88],
   [2.05e-4,-0.87],[2.4e-4,-0.86],[2.75e-4,-0.86],[3.2e-4,-0.86],[3.65e-4,-0.86],[4.2e-4,-0.86],[4.9e-4,-0.86],
   [2.05e-4,-0.92],[2.4e-4,-0.92],[2.75e-4,-0.92],[3.2e-4,-0.92],[3.65e-4,-0.92],[4.2e-4,-0.92],[4.9e-4,-0.92],[5.6e-4,-0.91],
   [2.05e-4,-0.98],[2.4e-4,-0.97],[2.75e-4,-0.98],[3.2e-4,-0.97],[3.65e-4,-0.98],[4.2e-4,-0.97],[4.9e-4,-0.98],[5.6e-4,-0.97],
   [2.05e-4,-1.03],[2.4e-4,-1.02],[2.8e-4,-1.03],[3.2e-4,-1.02],[3.7e-4,-1.03],[4.2e-4,-1.02],[4.9e-4,-1.02]],
  [[5.5e-4,-0.73],[6.5e-4,-0.71],[7.5e-4,-0.72],
   [4.0e-4,-0.79],[4.6e-4,-0.77],[5.3e-4,-0.79],[6.1e-4,-0.77],[7.0e-4,-0.79],[8.0e-4,-0.78],
   [2.9e-4,-0.85],[3.35e-4,-0.83],[3.85e-4,-0.85],[4.4e-4,-0.83],[5.1e-4,-0.85],[5.9e-4,-0.83],[6.8e-4,-0.85],[7.8e-4,-0.83],[8.9e-4,-0.85],
   [2.3e-4,-0.9],[2.65e-4,-0.91],[3.05e-4,-0.89],[3.5e-4,-0.91],[4.0e-4,-0.89],[4.6e-4,-0.91],[5.3e-4,-0.89],[6.1e-4,-0.91],[7.0e-4,-0.89],[8.1e-4,-0.91],[9.2e-4,-0.89],
   [2.15e-4,-0.96],[2.5e-4,-0.97],[2.85e-4,-0.95],[3.3e-4,-0.97],[3.8e-4,-0.95],[4.4e-4,-0.97],[5.0e-4,-0.95],[5.8e-4,-0.97],[6.7e-4,-0.95],[7.7e-4,-0.96],[8.6e-4,-0.94],
   [2.15e-4,-1.01],[2.5e-4,-1.01],[2.9e-4,-1.0],[3.35e-4,-1.01],[3.9e-4,-1.0],[4.5e-4,-1.01],[5.2e-4,-1.0],[6.0e-4,-1.01],[7.0e-4,-1.0],
   [4.9e-4,-0.66],[8.3e-4,-0.67],[1.1e-3,-0.66],[1.41e-3,-0.69],[2.04e-3,-0.63],[2.95e-3,-0.77],[4.3e-3,-0.7],[1.86e-3,-0.77],[2.29e-3,-0.84],
   [1.35e-3,-0.79],[1.7e-3,-0.81],[1.0e-3,-0.74],
   [4.3e-4,-0.76],[5.0e-4,-0.75],[5.9e-4,-0.74],[7.0e-4,-0.75],[8.2e-4,-0.75],
   [3.4e-4,-0.82],[3.95e-4,-0.81],[4.55e-4,-0.81],[5.3e-4,-0.81],[6.1e-4,-0.81],[7.0e-4,-0.82],[8.0e-4,-0.81],[9.0e-4,-0.8],
   [2.5e-4,-0.88],[2.85e-4,-0.87],[3.3e-4,-0.87],[3.75e-4,-0.87],[4.3e-4,-0.87],[5.0e-4,-0.87],[5.7e-4,-0.87],[6.6e-4,-0.87],[7.5e-4,-0.87],[8.6e-4,-0.87],
   [2.3e-4,-0.93],[2.65e-4,-0.94],[3.05e-4,-0.93],[3.5e-4,-0.94],[4.0e-4,-0.93],[4.65e-4,-0.94],[5.35e-4,-0.93],[6.2e-4,-0.93],[7.15e-4,-0.93],[8.2e-4,-0.92],
   [2.3e-4,-0.99],[2.7e-4,-0.98],[3.1e-4,-0.99],[3.6e-4,-0.98],[4.15e-4,-0.99],[4.8e-4,-0.98],[5.5e-4,-0.98],[6.4e-4,-0.98],[7.4e-4,-0.98]],
  [[6.0e-4,-0.75],[7.0e-4,-0.73],[8.2e-4,-0.75],[9.5e-4,-0.73],[1.1e-3,-0.74],[1.3e-3,-0.72],
   [4.2e-4,-0.81],[4.9e-4,-0.79],[5.7e-4,-0.81],[6.6e-4,-0.79],[7.7e-4,-0.81],[9.0e-4,-0.79],[1.05e-3,-0.81],[1.2e-3,-0.79],[1.4e-3,-0.81],[1.6e-3,-0.78],
   [3.2e-4,-0.86],[3.7e-4,-0.87],[4.3e-4,-0.85],[5.0e-4,-0.87],[5.8e-4,-0.85],[6.7e-4,-0.87],[7.8e-4,-0.85],[9.0e-4,-0.87],[1.05e-3,-0.85],[1.22e-3,-0.87],[1.42e-3,-0.85],[1.65e-3,-0.86],
   [2.35e-4,-0.92],[2.7e-4,-0.93],[3.1e-4,-0.91],[3.6e-4,-0.93],[4.2e-4,-0.91],[4.9e-4,-0.93],[5.7e-4,-0.91],[6.6e-4,-0.93],[7.7e-4,-0.91],[9.0e-4,-0.93],[1.05e-3,-0.91],[1.22e-3,-0.92],[1.45e-3,-0.9],
   [2.3e-4,-0.97],[2.65e-4,-0.98],[3.05e-4,-0.96],[3.5e-4,-0.98],[4.05e-4,-0.96],[4.7e-4,-0.98],[5.45e-4,-0.96],[6.3e-4,-0.97],[7.3e-4,-0.96],[8.5e-4,-0.97],[1.0e-3,-0.96],
   [2.24e-3,-0.56],[2.6e-3,-0.61],[3.2e-3,-0.67],[4.3e-3,-0.66],[5.8e-3,-0.77],[7.6e-3,-0.7],[7.9e-3,-0.7],[2.75e-3,-0.84],[4.3e-3,-0.84],
   [2.24e-3,-0.72],[2.35e-3,-0.93],[2.35e-3,-0.99],[1.17e-3,-0.71],[1.38e-3,-0.65],[1.62e-3,-0.75],
   [5.2e-4,-0.77],[6.2e-4,-0.76],[7.3e-4,-0.77],[8.6e-4,-0.76],[1.0e-3,-0.77],[1.2e-3,-0.76],[1.4e-3,-0.76],
   [3.6e-4,-0.84],[4.5e-4,-0.83],[5.3e-4,-0.83],[6.2e-4,-0.83],[7.2e-4,-0.83],[8.4e-4,-0.83],[9.7e-4,-0.83],[1.13e-3,-0.83],[1.3e-3,-0.83],[1.5e-3,-0.83],
   [2.55e-4,-0.9],[2.95e-4,-0.89],[3.4e-4,-0.89],[4.0e-4,-0.89],[4.6e-4,-0.89],[5.35e-4,-0.89],[6.2e-4,-0.89],[7.2e-4,-0.89],[8.4e-4,-0.89],[9.7e-4,-0.89],[1.13e-3,-0.89],[1.32e-3,-0.88],[1.55e-3,-0.88],
   [2.5e-4,-0.95],[2.9e-4,-0.95],[3.35e-4,-0.94],[3.9e-4,-0.95],[4.5e-4,-0.94],[5.3e-4,-0.95],[6.1e-4,-0.94],[7.1e-4,-0.95],[8.3e-4,-0.94],[9.7e-4,-0.94],[1.12e-3,-0.94],
   [2.5e-4,-1.0],[2.85e-4,-1.0],[3.3e-4,-0.99],[3.8e-4,-1.0],[4.4e-4,-0.99],[5.1e-4,-0.99],[5.9e-4,-0.99],[6.8e-4,-0.98],[7.9e-4,-0.98]],
  [[6.0e-4,-0.8],[7.0e-4,-0.79],[8.2e-4,-0.81],[9.5e-4,-0.78],[1.1e-3,-0.8],[1.3e-3,-0.78],[1.5e-3,-0.8],[1.75e-3,-0.79],[2.0e-3,-0.81],
   [3.5e-4,-0.86],[4.1e-4,-0.85],[4.8e-4,-0.87],[5.6e-4,-0.85],[6.5e-4,-0.87],[7.6e-4,-0.85],[8.9e-4,-0.87],[1.04e-3,-0.85],[1.2e-3,-0.86],[1.4e-3,-0.84],[1.65e-3,-0.86],[1.9e-3,-0.84],[2.2e-3,-0.86],
   [2.3e-4,-0.92],[2.7e-4,-0.91],[3.1e-4,-0.93],[3.6e-4,-0.91],[4.2e-4,-0.93],[4.9e-4,-0.91],[5.7e-4,-0.93],[6.6e-4,-0.91],[7.7e-4,-0.93],[9.0e-4,-0.91],[1.05e-3,-0.92],[1.22e-3,-0.9],[1.42e-3,-0.92],[1.65e-3,-0.9],[1.9e-3,-0.91],[2.2e-3,-0.9],
   [2.25e-4,-0.98],[2.6e-4,-0.99],[3.0e-4,-0.97],[3.5e-4,-0.99],[4.05e-4,-0.97],[4.7e-4,-0.98],[5.45e-4,-0.96],[6.3e-4,-0.97],[7.3e-4,-0.96],[8.5e-4,-0.96],[1.0e-3,-0.95],[1.15e-3,-0.96],
   [8.5e-4,-0.72],[1.17e-3,-0.65],[2.15e-3,-0.78],[2.8e-3,-0.82],[3.9e-3,-0.9],[5.6e-3,-0.84],[3.8e-3,-0.63],[6.3e-3,-0.65],[3.3e-3,-0.78],[2.5e-3,-0.88],
   [4.5e-4,-0.83],[5.2e-4,-0.83],[6.0e-4,-0.83],[7.1e-4,-0.83],[8.3e-4,-0.83],[9.6e-4,-0.82],[1.12e-3,-0.82],[1.3e-3,-0.81],[1.5e-3,-0.82],[1.78e-3,-0.82],[2.05e-3,-0.83],
   [2.5e-4,-0.89],[2.9e-4,-0.89],[3.35e-4,-0.89],[3.9e-4,-0.89],[4.5e-4,-0.89],[5.3e-4,-0.89],[6.1e-4,-0.89],[7.1e-4,-0.89],[8.3e-4,-0.89],[9.7e-4,-0.88],[1.13e-3,-0.88],[1.32e-3,-0.87],[1.52e-3,-0.88],[1.78e-3,-0.87],[2.05e-3,-0.87],
   [2.45e-4,-0.95],[2.85e-4,-0.95],[3.3e-4,-0.95],[3.8e-4,-0.95],[4.45e-4,-0.95],[5.2e-4,-0.94],[6.0e-4,-0.94],[7.0e-4,-0.94],[8.2e-4,-0.94],[9.5e-4,-0.93],[1.1e-3,-0.93],[1.3e-3,-0.93],
   [2.4e-4,-1.01],[2.8e-4,-1.0],[3.25e-4,-1.0],[3.8e-4,-1.0],[4.4e-4,-0.99]],
  [[3.0e-4,-0.83],[3.6e-4,-0.82],[4.3e-4,-0.83],[5.2e-4,-0.82],[6.2e-4,-0.83],[7.5e-4,-0.81],[9.0e-4,-0.83],[1.08e-3,-0.81],[1.3e-3,-0.82],[1.55e-3,-0.8],[1.85e-3,-0.81],[2.2e-3,-0.79],[2.65e-3,-0.8],[3.2e-3,-0.78],[3.8e-3,-0.79],[4.5e-3,-0.77],[5.4e-3,-0.76],
   [2.5e-4,-0.88],[2.9e-4,-0.89],[3.4e-4,-0.87],[4.0e-4,-0.89],[4.7e-4,-0.87],[5.5e-4,-0.89],[6.5e-4,-0.87],[7.6e-4,-0.89],[8.9e-4,-0.87],[1.05e-3,-0.88],[1.23e-3,-0.86],[1.45e-3,-0.88],[1.7e-3,-0.86],[2.0e-3,-0.87],[2.35e-3,-0.85],[2.75e-3,-0.86],[3.25e-3,-0.84],[3.8e-3,-0.85],[4.5e-3,-0.83],[5.3e-3,-0.82],[6.3e-3,-0.8],
   [2.5e-4,-0.94],[2.9e-4,-0.93],[3.4e-4,-0.95],[4.0e-4,-0.93],[4.7e-4,-0.95],[5.5e-4,-0.93],[6.5e-4,-0.95],[7.6e-4,-0.93],[8.9e-4,-0.94],[1.05e-3,-0.92],[1.23e-3,-0.94],[1.45e-3,-0.92],[1.7e-3,-0.93],[2.0e-3,-0.91],[2.35e-3,-0.92],[2.75e-3,-0.9],[3.25e-3,-0.9],[3.8e-3,-0.88],
   [2.6e-4,-0.98],[3.2e-4,-0.98],[3.9e-4,-0.97],[4.8e-4,-0.98],[5.8e-4,-0.97],[7.0e-4,-0.97],[8.5e-4,-0.96],[1.0e-3,-0.96],[1.2e-3,-0.96],[1.45e-3,-0.95],
   [9.8e-4,-0.67],[2.05e-3,-0.7],[4.5e-4,-0.76],[7.4e-3,-0.78],[8.1e-4,-0.8],[6.5e-4,-0.79],[1.1e-3,-0.77],
   [2.7e-4,-0.85],[3.15e-4,-0.85],[3.7e-4,-0.85],[4.35e-4,-0.85],[5.1e-4,-0.85],[6.0e-4,-0.85],[7.0e-4,-0.84],[8.2e-4,-0.84],[9.7e-4,-0.84],[1.14e-3,-0.84],[1.34e-3,-0.84],[1.57e-3,-0.83],[1.85e-3,-0.83],[2.17e-3,-0.82],[2.55e-3,-0.82],[3.0e-3,-0.81],[3.5e-3,-0.81],[4.15e-3,-0.8],[4.9e-3,-0.79],[5.8e-3,-0.78],
   [2.7e-4,-0.91],[3.15e-4,-0.91],[3.7e-4,-0.91],[4.35e-4,-0.91],[5.1e-4,-0.91],[6.0e-4,-0.91],[7.0e-4,-0.91],[8.2e-4,-0.9],[9.7e-4,-0.9],[1.14e-3,-0.9],[1.34e-3,-0.9],[1.57e-3,-0.89],[1.85e-3,-0.89],[2.17e-3,-0.88],[2.55e-3,-0.88],[3.0e-3,-0.87],[3.5e-3,-0.86],
   [2.8e-4,-0.96],[3.5e-4,-0.96],[4.3e-4,-0.96],[5.3e-4,-0.95],[6.4e-4,-0.95],[7.7e-4,-0.95],[9.2e-4,-0.95],[1.1e-3,-0.94],[1.32e-3,-0.94],[1.6e-3,-0.94]]
];

// ---- layout ----
var svg = d3.select('#chart');
var plotLeft = 94.5, plotTop = 58.5, panelW = 252.5, panelH = 99.4;
var fontSize = 19.5;

var x = d3.scaleLog().domain([1e-5, 2.94e-2]).range([0, panelW]);
var y = d3.scaleLinear().domain([-1.7, -0.5]).range([panelH, 0]);

svg.append('rect').attr('width', 593).attr('height', 614).attr('fill', '#fff');

panelLabels.forEach(function (label, i) {
    var row = Math.floor(i / 2), col = i % 2;
    var g = svg.append('g')
        .attr('transform', 'translate(' + (plotLeft + col * panelW) + ',' + (plotTop + row * panelH) + ')');

    g.append('clipPath').attr('id', 'clip' + i)
        .append('rect').attr('width', panelW).attr('height', panelH);
    var inner = g.append('g').attr('clip-path', 'url(#clip' + i + ')');

    // shaded ranges
    inner.append('rect')
        .attr('x', x(kBand[i][0]))
        .attr('width', x(kBand[i][1]) - x(kBand[i][0]))
        .attr('y', 0).attr('height', panelH)
        .attr('fill', 'gray').attr('fill-opacity', 0.2);
    inner.append('rect')
        .attr('x', 0).attr('width', panelW)
        .attr('y', y(slopeBand[i][1]))
        .attr('height', y(slopeBand[i][0]) - y(slopeBand[i][1]))
        .attr('fill', 'gray').attr('fill-opacity', 0.2);

    // grid
    inner.selectAll(null).data(xTicks).enter().append('line')
        .attr('x1', function (d) { return x(d); }).attr('x2', function (d) { return x(d); })
        .attr('y1', 0).attr('y2', panelH)
        .attr('stroke', '#b0b0b0').attr('stroke-width', 1.5);
    inner.selectAll(null).data(yTicks).enter().append('line')
        .attr('x1', 0).attr('x2', panelW)
        .attr('y1', function (d) { return y(d); }).attr('y2', function (d) { return y(d); })
        .attr('stroke', '#b0b0b0').attr('stroke-width', 1.5);

    // points
    [background, sulfuric, smoke].forEach(function (series, s) {
        inner.selectAll(null).data(series[i]).enter().append('circle')
            .attr('cx', function (d) { return x(d[0]); })
            .attr('cy', function (d) { return y(d[1]); })
            .attr('r', 2.4)
            .attr('fill', legendColors[s]);
    });

    // ticks (pointing inwards)
    var xAxis = g.append('g').attr('transform', 'translate(0,' + panelH + ')')
        .call(d3.axisBottom(x).tickValues(xTicks).tickSize(-6).tickFormat(''));
    var yAxis = g.append('g')
        .call(d3.axisLeft(y).tickValues(yTicks).tickSize(-6).tickFormat(''));
    var yMinor = g.append('g')
        .call(d3.axisLeft(y).tickValues(y.ticks(12)).tickSize(-3.5).tickFormat(''));
    [xAxis, yAxis, yMinor].forEach(function (a) {
        a.select('.domain').remove();
        a.selectAll('line').attr('stroke', '#000').attr('stroke-width', 1.2);
    });

    // frame
    g.append('rect').attr('width', panelW).attr('height', panelH)
        .attr('fill', 'none').attr('stroke', '#000').attr('stroke-width', 1.5);

    g.append('text')
        .attr('x', 7.5).attr('y', 21.5)
        .attr('font-size', fontSize)
        .text(label);

    // tick labels on the outer panels
    if (col === 0) {
        var shown = row === 0 ? yTicks : yTicks.slice(1);
        shown.forEach(function (v) {
            g.append('text')
                .attr('x', -8).attr('y', y(v))
                .attr('dy', '0.36em')
                .attr('text-anchor', 'end')
                .attr('font-size', fontSize)
                .text(yTickLabels[yTicks.indexOf(v)]);
        });
    }
    if (row === 4) {
        xTicks.forEach(function (v, t) {
            if (col === 1 && t === 0) return;
            var tx = g.append('text')
                .attr('x', x(v)).attr('y', panelH + 27)
                .attr('text-anchor', 'middle')
                .attr('font-size', fontSize);
            tx.append('tspan').text('10');
            tx.append('tspan').attr('dy', -8).attr('font-size', 13.5).text(xTickPowers[t]);
        });
    }
});

// title
svg.append('text')
    .attr('x', 346).attr('y', 26)
    .attr('text-anchor', 'middle')
    .attr('font-size', 24.5)
    .text('Raikoke Main Peak');

// legend
var legend = svg.append('g');
var cursor = 0;
legendNames.forEach(function (name, i) {
    legend.append('circle').attr('cx', cursor).attr('cy', -7.5).attr('r', 1.7).attr('fill', legendColors[i]);
    var t = legend.append('text').attr('x', cursor + 6.5).attr('y', 0)
        .attr('font-size', fontSize).text(name);
    cursor += 6.5 + t.node().getComputedTextLength() + 15;
});
var legendWidth = cursor - 15;
legend.attr('transform', 'translate(' + (346 - legendWidth / 2) + ',50.5)');

// axis titles
var yTitle = svg.append('text')
    .attr('transform', 'translate(31,307) rotate(-90)')
    .attr('text-anchor', 'middle')
    .attr('font-size', fontSize);
yTitle.append('tspan').text('Spectral Slope x 1000 (km');
yTitle.append('tspan').attr('dy', -8).attr('font-size', 13.5).text('\u22121');
yTitle.append('tspan').attr('dy', 8).text('nm');
yTitle.append('tspan').attr('dy', -8).attr('font-size', 13.5).text('\u22121');
yTitle.append('tspan').attr('dy', 8).text(')');

var xTitle = svg.append('text')
    .attr('x', 346).attr('y', 606)
    .attr('text-anchor', 'middle')
    .attr('font-size', fontSize);
xTitle.append('tspan').text('k');
xTitle.append('tspan').attr('dy', 4).attr('font-size', 13.5).text('1020');
xTitle.append('tspan').attr('dy', -4).text(' (km');
xTitle.append('tspan').attr('dy', -8).attr('font-size', 13.5).text('\u22121');
xTitle.append('tspan').attr('dy', 8).text(')');
</script>
</body>
</html>
